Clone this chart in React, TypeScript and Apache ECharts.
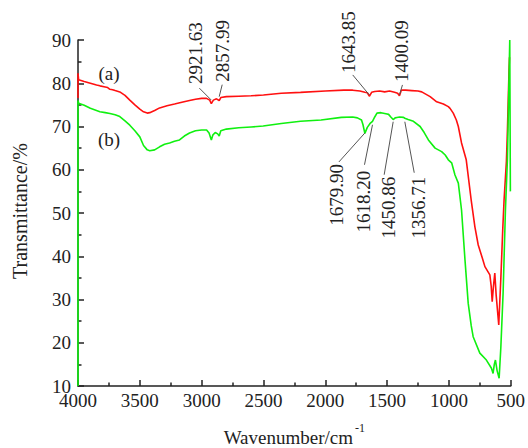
import React, { useEffect, useRef } from "react";
import * as echarts from "echarts";

// Wavenumber (cm^-1), transmittance (%)
const seriesA: [number, number][] = [
  [4000, 76.6], [4000, 82.3], [3995, 80.8], [3950, 80.4], [3900, 80.0], [3850, 79.6], [3823, 79.4],
  [3790, 79.2], [3760, 79.0], [3742, 78.6], [3720, 78.5], [3700, 78.3], [3662, 78.0], [3620, 77.2],
  [3581, 76.1], [3540, 75.0], [3500, 74.0], [3470, 73.4], [3440, 73.1], [3420, 73.2], [3380, 73.7],
  [3340, 74.3], [3280, 74.8], [3219, 75.2], [3160, 75.6], [3098, 76.0], [3050, 76.3], [3000, 76.5],
  [2960, 76.5], [2935, 76.1], [2921.63, 75.3], [2905, 76.1], [2880, 76.4], [2858, 76.0], [2845, 76.7],
  [2800, 76.9], [2700, 77.0], [2600, 77.1], [2500, 77.3], [2356, 77.7], [2200, 77.9], [2000, 78.2],
  [1850, 78.4], [1778, 78.4], [1720, 78.2], [1680, 77.9], [1660, 77.8], [1643.85, 77.0], [1625, 77.9],
  [1600, 78.1], [1560, 78.2], [1520, 78.0], [1480, 78.2], [1440, 77.9], [1415, 77.7], [1400.09, 77.1],
  [1385, 78.4], [1350, 78.4], [1300, 78.3], [1250, 78.2], [1220, 78.0], [1152, 76.9], [1099, 75.7],
  [1045, 75.2], [1005, 74.6], [991, 74.2], [965, 73.1], [940, 71.5], [924, 70.0], [898, 66.2],
  [860, 62.3], [820, 53.0], [790, 46.8], [763, 42.6], [730, 39.6], [709, 37.6], [669, 35.7],
  [658, 33.0], [650, 29.5], [640, 33.0], [629, 36.1], [618, 31.0], [597, 24.1], [580, 35.0],
  [565, 46.0], [554, 53.0], [535, 62.0], [527, 69.0], [514, 83.0], [510, 86.0],
];

const seriesB: [number, number][] = [
  [4000, 10.0], [4000, 76.0], [3995, 75.4], [3950, 74.9], [3900, 74.2], [3823, 73.4], [3780, 73.2],
  [3742, 73.0], [3700, 72.7], [3662, 72.3], [3620, 71.3], [3581, 70.3], [3540, 69.0], [3500, 67.6],
  [3470, 65.6], [3440, 64.6], [3420, 64.4], [3380, 64.6], [3340, 65.3], [3300, 65.9], [3259, 66.2],
  [3220, 66.6], [3179, 66.9], [3140, 67.8], [3098, 68.5], [3050, 69.0], [3000, 69.2], [2960, 69.2],
  [2940, 68.5], [2921.63, 66.9], [2910, 68.0], [2890, 68.6], [2870, 68.3], [2858, 67.8], [2845, 69.0],
  [2800, 69.4], [2700, 69.7], [2600, 69.9], [2502, 70.1], [2356, 70.7], [2200, 71.2], [2034, 71.5],
  [1870, 72.1], [1778, 72.2], [1740, 72.0], [1707, 71.5], [1695, 70.4], [1679.9, 68.4], [1660, 69.8],
  [1635, 70.8], [1618.2, 71.2], [1600, 72.2], [1582, 73.1], [1550, 73.2], [1500, 72.9], [1488, 72.8],
  [1470, 72.2], [1450.86, 71.6], [1435, 72.0], [1421, 72.1], [1400, 72.2], [1367, 72.1], [1356.71, 71.9],
  [1330, 71.6], [1287, 71.2], [1233, 70.0], [1200, 68.6], [1166, 66.9], [1112, 65.0], [1059, 64.2],
  [1030, 63.4], [1005, 62.3], [978, 61.6], [951, 58.8], [924, 56.9], [898, 50.7], [870, 39.1],
  [844, 29.1], [820, 24.0], [804, 21.4], [750, 17.6], [697, 16.0], [656, 14.1], [643, 12.9],
  [633, 15.0], [624, 16.0], [610, 13.5], [594, 11.8], [580, 19.0], [562, 31.4], [543, 50.7],
  [527, 62.3], [508, 90.0], [503, 55.0],
];

// Peak annotations: label text, wavenumber, transmittance at the leader's end
const peakLabelsA = ["2921.63", "2857.99", "1643.85", "1400.09"];
const peakWnA = [2921.63, 2857.99, 1643.85, 1400.09];
const peakTA = [76.1, 76.9, 77.3, 77.3];

const peakLabelsB = ["1679.90", "1618.20", "1450.86", "1356.71"];
const peakWnB = [1679.9, 1618.2, 1450.86, 1356.71];
const peakTB = [68.5, 70.4, 71.1, 71.1];

// pixel offsets (layout only): leader start, text anchor, relative to the peak point
const offsA = [
  { lx: -12, ly: -12, tx: -16, ty: -16 },
  { lx: 3, ly: -12, tx: 3.5, ty: -15 },
  { lx: -16.6, ly: -20, tx: -20.6, ty: -22 },
  { lx: 3, ly: -10, tx: 2, ty: -13 },
];
const offsB = [
  { lx: -26, ly: 29, tx: -28.7, ty: 31 },
  { lx: -8, ly: 40, tx: -8.8, ty: 46 },
  { lx: -9, ly: 53, tx: -4.6, ty: 55 },
  { lx: 9.4, ly: 51, tx: 13.7, ty: 55 },
];

const FONT = "'Liberation Serif', 'Times New Roman', serif";
const AXIS_COLOR = "#222";
const TEXT_COLOR = "#222";

export default function App() {
  const ref = useRef<HTMLDivElement>(null);

  useEffect(() => {
    document.body.style.margin = "0";
    if (!ref.current) return;
    const chart = echarts.init(ref.current, undefined, { renderer: "svg" });

    const axisCommon = {
      axisLine: { show: true, lineStyle: { color: AXIS_COLOR, width: 1.5 } },
      axisTick: { show: true, inside: true, length: 6, lineStyle: { color: AXIS_COLOR, width: 1.5 } },
      minorTick: { show: true, splitNumber: 2, length: 3.5, lineStyle: { color: AXIS_COLOR, width: 1.5 } },
      splitLine: { show: false },
      minorSplitLine: { show: false },
    };

    chart.setOption({
      animation: false,
      backgroundColor: "#fff",
      grid: { left: 78, right: 15.3, top: 40, bottom: 62, containLabel: false },
      xAxis: {
        type: "value",
        min: 500,
        max: 4000,
        interval: 500,
        inverse: true,
        ...axisCommon,
        axisLabel: {
          color: TEXT_COLOR,
          fontFamily: FONT,
          fontSize: 19,
          lineHeight: 15,
          margin: 7,
          showMinLabel: true,
          showMaxLabel: true,
          formatter: (v: number) => String(v),
        },
      },
      yAxis: {
        type: "value",
        min: 10,
        max: 90,
        interval: 10,
        ...axisCommon,
        axisLabel: {
          color: TEXT_COLOR,
          fontFamily: FONT,
          fontSize: 19,
          lineHeight: 13,
          margin: 7,
          formatter: (v: number) => String(v),
        },
      },
      series: [
        {
          name: "(a)",
          type: "line",
          data: seriesA,
          showSymbol: false,
          symbol: "none",
          lineStyle: { color: "#ff1010", width: 1.6 },
          z: 2,
        },
        {
          name: "(b)",
          type: "line",
          data: seriesB,
          showSymbol: false,
          symbol: "none",
          lineStyle: { color: "#10f010", width: 1.6 },
          z: 3,
        },
      ],
    });

    const graphics: any[] = [];
    const addPeaks = (labels: string[], wns: number[], ts: number[], offs: any[], above: boolean) => {
      labels.forEach((lab, i) => {
        const p = chart.convertToPixel({ gridIndex: 0 }, [wns[i], ts[i]]) as number[];
        const o = offs[i];
        graphics.push({
          type: "line",
          shape: { x1: p[0] + o.lx, y1: p[1] + o.ly, x2: p[0], y2: p[1] },
          style: { stroke: "#555", lineWidth: 1 },
          z: 10,
        });
        graphics.push({
          type: "text",
          x: p[0] + o.tx,
          y: p[1] + o.ty,
          rotation: Math.PI / 2,
          style: {
            text: lab,
            fill: TEXT_COLOR,
            font: `19px ${FONT}`,
            align: above ? "left" : "right",
            verticalAlign: "middle",
          },
          z: 10,
        });
      });
    };
    addPeaks(peakLabelsA, peakWnA, peakTA, offsA, true);
    addPeaks(peakLabelsB, peakWnB, peakTB, offsB, false);

    graphics.push(
      { type: "text", x: 109, y: 73, style: { text: "(a)", fill: TEXT_COLOR, font: `19px ${FONT}`, align: "center", verticalAlign: "middle" } },
      { type: "text", x: 109, y: 139, style: { text: "(b)", fill: TEXT_COLOR, font: `19px ${FONT}`, align: "center", verticalAlign: "middle" } },
      {
        type: "text",
        x: 19.5,
        y: 211,
        rotation: Math.PI / 2,
        style: { text: "Transmittance/%", fill: TEXT_COLOR, font: `20px ${FONT}`, align: "center", verticalAlign: "middle" },
      },
      { type: "text", x: 353, y: 437.5, style: { text: "Wavenumber/cm", fill: TEXT_COLOR, font: `19px ${FONT}`, align: "right", verticalAlign: "middle" } },
      { type: "text", x: 355, y: 428, style: { text: "-1", fill: TEXT_COLOR, font: `12px ${FONT}`, align: "left", verticalAlign: "middle" } }
    );

    chart.setOption({ graphic: graphics });

    return () => chart.dispose();
  }, []);

  return <div ref={ref} style={{ width: 528, height: 448 }} />;
}
